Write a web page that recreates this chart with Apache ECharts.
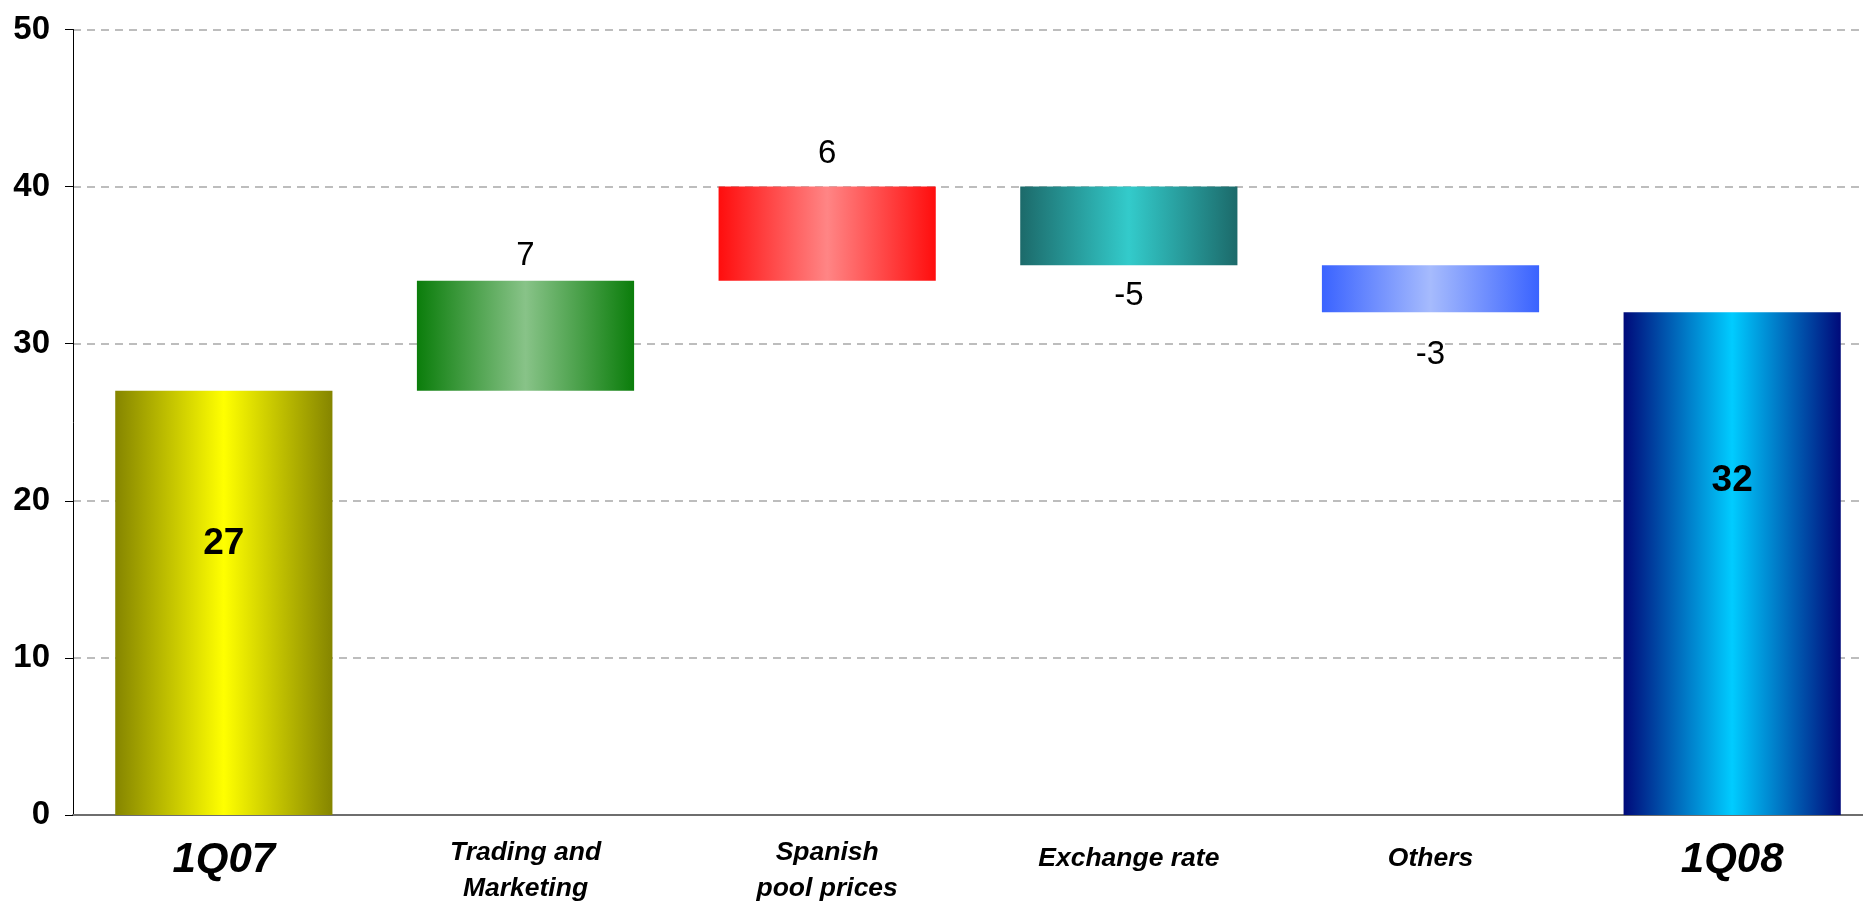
<!DOCTYPE html>
<html>
<head>
<meta charset="utf-8">
<title>1Q07 to 1Q08 bridge</title>
<script src="https://cdn.jsdelivr.net/npm/echarts@6/dist/echarts.min.js"></script>
<style>
  html, body { margin: 0; padding: 0; background: #fff; overflow: hidden; width: 1863px; height: 903px; }
  /* the plotting area runs a little past the right edge of the page */
  #chart { width: 1883px; height: 903px; }
</style>
</head>
<body>
<div id="chart"></div>
<script>
// Bridge data: opening total, the step changes, closing total
const categories = ['1Q07', 'Trading and\nMarketing', 'Spanish\npool prices', 'Exchange rate', 'Others', '1Q08'];
const openingTotal = 27;
const changes = [7, 6, -5, -3];
const closingTotal = 32;
const yTicks = [0, 10, 20, 30, 40, 50];

// Bar shading: dark edge colour and light centre colour for each bar
const edgeColors = ['#858500', '#0b7d0b', '#ff0d0d', '#1c6a6a', '#3a63ff', '#000a7a'];
const centerColors = ['#ffff00', '#88c388', '#ff8585', '#33cbcb', '#a6bbfd', '#00ccff'];
// Gap between each change bar and its value label, and where the totals sit inside their bars
const changeLabelGaps = [8, 16, 14, 26];
const totalLabelY = ['36%', '33.5%'];

const FONT = 'Arial, "Liberation Sans", sans-serif';

function shade(i) {
  return {
    type: 'linear', x: 0, y: 0, x2: 1, y2: 0,
    colorStops: [
      { offset: 0, color: edgeColors[i] },
      { offset: 0.5, color: centerColors[i] },
      { offset: 1, color: edgeColors[i] }
    ]
  };
}

// Build floating-bar bases and heights from the running total
const bases = [0];
const heights = [openingTotal];
let running = openingTotal;
changes.forEach(function (c) {
  const next = running + c;
  bases.push(Math.min(running, next));
  heights.push(Math.abs(c));
  running = next;
});
bases.push(0);
heights.push(closingTotal);

const lastIndex = categories.length - 1;
const barItems = heights.map(function (h, i) {
  const item = { value: h, itemStyle: { color: shade(i) } };
  if (i === 0 || i === lastIndex) {
    item.label = {
      show: true,
      position: ['50%', totalLabelY[i === 0 ? 0 : 1]],
      align: 'center',
      verticalAlign: 'middle',
      formatter: String(i === 0 ? openingTotal : closingTotal),
      fontFamily: FONT, fontSize: 37, fontWeight: 'bold', color: '#000'
    };
  } else {
    const c = changes[i - 1];
    item.label = {
      show: true,
      position: c >= 0 ? 'top' : 'bottom',
      distance: changeLabelGaps[i - 1],
      formatter: String(c),
      fontFamily: FONT, fontSize: 33, fontWeight: 'normal', color: '#000'
    };
  }
  return item;
});

const chart = echarts.init(document.getElementById('chart'), null, { renderer: 'canvas' });

chart.setOption({
  animation: false,
  backgroundColor: '#ffffff',
  grid: { left: 73, right: 0, top: 29.5, bottom: 88, containLabel: false },
  xAxis: {
    type: 'category',
    data: categories,
    axisLine: { show: true, lineStyle: { color: '#6e6e6e', width: 2 } },
    axisTick: { show: false },
    axisLabel: {
      interval: 0,
      margin: 20,
      formatter: function (v, i) {
        if (i === 0 || i === lastIndex) return '{big|' + v + '}';
        if (v.indexOf('\n') < 0) return '{one|' + v + '}';
        return v.split('\n').map(function (s) { return '{two|' + s + '}'; }).join('\n');
      },
      rich: {
        big: { fontFamily: FONT, fontSize: 42, fontWeight: 'bold', fontStyle: 'italic', color: '#000', lineHeight: 50 },
        two: { fontFamily: FONT, fontSize: 26.5, fontWeight: 'bold', fontStyle: 'italic', color: '#000', lineHeight: 36 },
        one: { fontFamily: FONT, fontSize: 26.5, fontWeight: 'bold', fontStyle: 'italic', color: '#000', lineHeight: 48 }
      }
    }
  },
  yAxis: {
    type: 'value',
    min: yTicks[0],
    max: yTicks[yTicks.length - 1],
    interval: yTicks[1] - yTicks[0],
    axisLine: { show: true, lineStyle: { color: '#000', width: 1 } },
    axisTick: { show: true, length: 8, lineStyle: { color: '#000', width: 1 } },
    axisLabel: { margin: 23, fontFamily: FONT, fontSize: 33, fontWeight: 'bold', color: '#000' },
    splitLine: { show: true, lineStyle: { color: '#a8a8a8', width: 1.5, type: [8, 6] } }
  },
  series: [
    {
      name: 'base',
      type: 'bar',
      stack: 'bridge',
      barWidth: '72%',
      silent: true,
      itemStyle: { color: 'rgba(0,0,0,0)' },
      data: bases
    },
    {
      name: 'value',
      type: 'bar',
      stack: 'bridge',
      barWidth: '72%',
      data: barItems
    }
  ]
});
</script>
</body>
</html>
